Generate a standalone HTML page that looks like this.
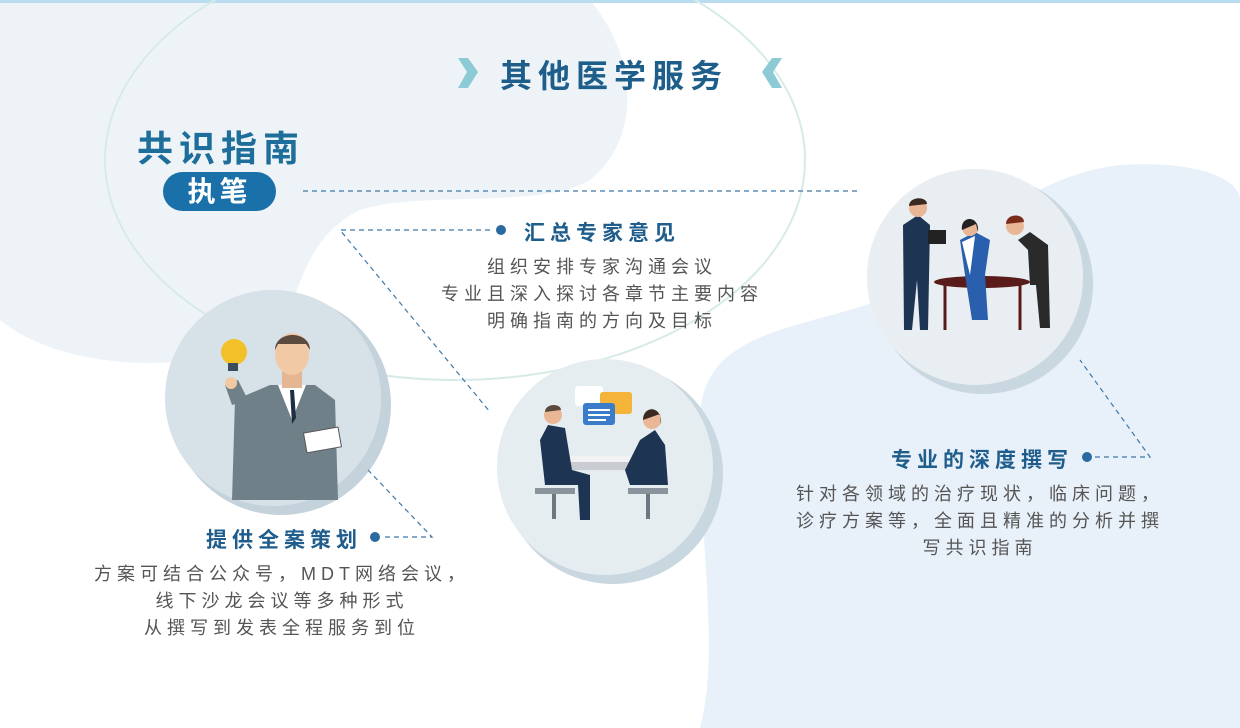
<!DOCTYPE html>
<html><head><meta charset="utf-8"><style>
*{margin:0;padding:0}
body{width:1240px;height:728px;position:relative;overflow:hidden;background:#fff;font-family:"Liberation Sans","Noto Sans CJK SC",sans-serif}
.t{position:absolute;white-space:nowrap}
.h{font-weight:bold;color:#1f5d8c;font-size:21px;letter-spacing:5px}
.b{color:#555;font-size:18px;letter-spacing:5px;line-height:27px;text-align:center}
</style></head><body>
<svg width="1240" height="728" style="position:absolute;left:0;top:0">
<path d="M0,0 L590,0 C640,60 640,140 590,180 C540,210 420,190 360,210 C300,240 300,300 280,330 C200,380 60,370 0,320 Z" fill="#eef3f7"/>
<rect x="0" y="0" width="1240" height="3" fill="#b9dcef"/>
<path d="M700,420 C700,330 800,330 880,300 C960,270 1000,180 1120,165 C1200,160 1240,180 1240,200 L1240,728 L700,728 C720,650 700,560 700,420 Z" fill="#e8f0f9"/>
<ellipse cx="455" cy="160" rx="350" ry="220" fill="none" stroke="#d6ebe8" stroke-width="2"/>
<circle cx="281" cy="405" r="110" fill="#c4d2dc"/><circle cx="273" cy="398" r="108" fill="#d6e1e8"/>
<circle cx="613" cy="474" r="110" fill="#c9d7e0"/><circle cx="605" cy="467" r="108" fill="#e6edf1"/>
<circle cx="983" cy="284" r="110" fill="#c9d7e0"/><circle cx="975" cy="277" r="108" fill="#e8eef1"/>
<g stroke="#3f78a8" stroke-width="1.2" stroke-dasharray="5,4" fill="none">
<line x1="303" y1="191" x2="860" y2="191"/>
<path d="M490,230 L340,230 L490,412"/>
<path d="M1095,457 L1150,457 L1080,360"/>
<path d="M385,537 L432,537 L368,470"/>
</g>
<g fill="#2a6aa0"><circle cx="501" cy="230" r="5"/><circle cx="1087" cy="457" r="5"/><circle cx="375" cy="537" r="5"/></g>
<path d="M458,58 L468,58 L478,72 L468,88 L458,88 L467,72Z" fill="#8ccbd6"/>
<path d="M782,58 L772,58 L762,72 L772,88 L782,88 L773,72Z" fill="#8ccbd6"/>
<path d="M232,500 L235,400 L270,385 L315,385 L335,400 L338,500Z" fill="#6f8089"/>
<path d="M278,385 L292,420 L306,385Z" fill="#fff"/><path d="M290,390 L294,390 L296,418 L292,424Z" fill="#1e2f44"/>
<rect x="282" y="368" width="20" height="20" fill="#e4b792"/>
<ellipse cx="292" cy="354" rx="17" ry="21" fill="#f2c9a5"/><path d="M275,350 C275,330 310,330 310,350 L306,344 L278,344Z" fill="#5b4a3e"/>
<path d="M232,405 L225,385 L238,380 L248,400Z" fill="#6f8089"/><circle cx="231" cy="383" r="6" fill="#f2c9a5"/>
<circle cx="234" cy="352" r="13" fill="#f2c129"/><rect x="228" y="363" width="10" height="8" fill="#3b4d5c"/>
<rect x="305" y="430" width="35" height="20" fill="#fff" stroke="#555" transform="rotate(-10 322 440)"/>
<rect x="575" y="386" width="28" height="20" rx="3" fill="#fff"/>
<rect x="600" y="392" width="32" height="22" rx="3" fill="#f4b43a"/>
<rect x="583" y="403" width="32" height="22" rx="3" fill="#3a7cc9"/>
<g stroke="#fff" stroke-width="2"><line x1="588" y1="410" x2="610" y2="410"/><line x1="588" y1="415" x2="610" y2="415"/><line x1="588" y1="420" x2="606" y2="420"/></g>
<rect x="558" y="460" width="92" height="10" fill="#c9ccd0"/><rect x="560" y="456" width="88" height="6" fill="#f2f2f2"/>
<path d="M540,440 L548,425 L565,428 L572,470 L590,475 L590,520 L580,520 L578,485 L545,485Z" fill="#1d3552"/>
<circle cx="553" cy="415" r="9" fill="#e9b795"/><path d="M545,412 C545,403 561,403 561,410Z" fill="#5b4a3e"/>
<path d="M640,440 L655,430 L665,445 L668,485 L630,485 L625,470Z" fill="#1d3552"/>
<circle cx="652" cy="420" r="9" fill="#e9b795"/><path d="M643,420 C643,405 663,405 661,425 L660,414Z" fill="#3a2a22"/>
<rect x="535" y="488" width="40" height="6" fill="#8a949c"/><rect x="552" y="494" width="4" height="25" fill="#6d7780"/>
<rect x="628" y="488" width="40" height="6" fill="#8a949c"/><rect x="646" y="494" width="4" height="25" fill="#6d7780"/>
<ellipse cx="982" cy="282" rx="48" ry="6" fill="#5a1b1b"/>
<g stroke="#5a1b1b" stroke-width="3"><line x1="945" y1="285" x2="945" y2="330"/><line x1="1020" y1="285" x2="1020" y2="330"/></g>
<path d="M903,225 L918,215 L930,225 L928,330 L920,330 L917,280 L912,330 L904,330Z" fill="#1d3552"/>
<circle cx="918" cy="208" r="9" fill="#e9b795"/><path d="M909,206 C909,196 927,196 927,204Z" fill="#3a2a22"/>
<rect x="928" y="230" width="18" height="14" fill="#222"/>
<path d="M960,240 L975,232 L990,240 L985,275 L988,320 L972,320 L965,275Z" fill="#2a5fae"/><path d="M962,242 L975,236 L970,275Z" fill="#fff"/>
<circle cx="970" cy="228" r="8" fill="#e9b795"/><path d="M962,230 C960,215 980,215 978,232 L976,224Z" fill="#222"/>
<path d="M1018,240 L1030,232 L1048,245 L1050,328 L1040,328 L1036,285 L1030,285 L1028,250Z" fill="#2a2a2a"/>
<circle cx="1015" cy="226" r="9" fill="#e9b795"/><path d="M1006,224 C1006,213 1024,213 1024,222Z" fill="#7a2d1a"/>
</svg>
<div class="t" style="left:500px;top:51px;font-size:32px;font-weight:bold;color:#1d5e8a;letter-spacing:6px">其他医学服务</div>
<div class="t" style="left:137px;top:120px;font-size:36px;font-weight:bold;color:#1d6e9a;letter-spacing:6px">共识指南</div>
<div class="t" style="left:163px;top:172px;width:113px;height:39px;border-radius:20px;background:#1a70a8;color:#fff;font-size:28px;font-weight:bold;text-align:center;line-height:39px;letter-spacing:4px">执笔</div>
<div class="t h" style="left:524px;top:217px">汇总专家意见</div>
<div class="t b" style="left:402px;top:254px;width:400px">组织安排专家沟通会议<br>专业且深入探讨各章节主要内容<br>明确指南的方向及目标</div>
<div class="t h" style="left:891px;top:444px">专业的深度撰写</div>
<div class="t b" style="left:770px;top:481px;width:420px">针对各领域的治疗现状，临床问题，<br>诊疗方案等，全面且精准的分析并撰<br>写共识指南</div>
<div class="t h" style="left:206px;top:524px">提供全案策划</div>
<div class="t b" style="left:62px;top:561px;width:440px">方案可结合公众号，MDT网络会议，<br>线下沙龙会议等多种形式<br>从撰写到发表全程服务到位</div>
</body></html>
